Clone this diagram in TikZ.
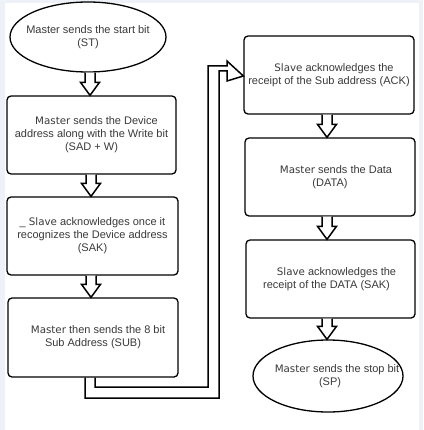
\documentclass[tikz,border=0pt]{standalone}
\usepackage{fontspec}
\setmainfont{Liberation Sans}
\newfontfamily\dvfont{DejaVu Sans}
\usetikzlibrary{shapes.geometric,calc}
\definecolor{txt}{HTML}{3A3A3A}
\definecolor{frame}{HTML}{EEF1F8}
\newcommand{\alt}[1]{{\dvfont\fontsize{10.3}{13}\selectfont #1}}
\newcommand{\ind}[1]{\hspace*{#1}}
\tikzset{
  every node/.style={font=\fontsize{11}{13}\selectfont, text=txt, align=center},
  stepbox/.style={draw=black, line width=1.3pt, rounded corners=4pt, rectangle, inner sep=0pt},
  oval/.style={draw=black, line width=1.3pt, ellipse, inner xsep=-40pt, inner ysep=-10pt},
  blk/.style={draw=black, line width=1.5pt, fill=white, line join=miter},
}
\newcommand{\blockarrow}[3]{%
  \draw[blk] let \p1=(#2.south), \p2=(#3.north) in
    (#1-5,\y1) -- (#1-5,\y2+13) -- (#1-9.5,\y2+13) -- (#1,\y2) --
    (#1+9.5,\y2+13) -- (#1+5,\y2+13) -- (#1+5,\y1);}
\begin{document}
\begin{tikzpicture}[x=1pt,y=1pt]
\fill[frame] (0,0) rectangle (423,-430);
\fill[white] (5,-3) rectangle (419,-430);
\useasboundingbox (0,0) rectangle (423,-430);

\node[oval, minimum width=156pt, minimum height=70pt] (e1) at (88,-37)
  {Master sends the start bit\\(ST)};
\node[stepbox, minimum width=169pt, minimum height=78pt] (b2) at (91.5,-135)
  {\ind{10pt}\alt{Master} sends the Device\\address along with the Write bit\\(SAD + W)};
\node[stepbox, minimum width=171pt, minimum height=78pt] (b3) at (92.5,-236)
  {\_ \alt{Slave} acknowledges once it\\recognizes the Device address\\(SAK)};
\node[stepbox, minimum width=170pt, minimum height=79pt] (b4) at (93,-337.5)
  {\ind{10pt}\alt{Master} then sends the 8 bit\\Sub Address (SUB)};
\node[stepbox, minimum width=170pt, minimum height=78pt] (b5) at (329,-75)
  {\ind{10pt}\alt{Slave} acknowledges the\\receipt of the Sub address (ACK)};
\node[stepbox, minimum width=170pt, minimum height=78pt] (b6) at (330,-177)
  {\ind{12pt}\alt{Master} sends the Data\\(DATA)};
\node[stepbox, minimum width=169pt, minimum height=78pt] (b7) at (330.5,-279)
  {\ind{12pt}\alt{Slave} acknowledges the\\\ind{-8pt}receipt of the DATA (SAK)};
\node[oval, minimum width=150pt, minimum height=72pt] (e2) at (328,-376)
  {\ind{18pt}\alt{Master} sends the stop bit\\\ind{4pt}(SP)};

\blockarrow{90}{e1}{b2}
\blockarrow{91}{b2}{b3}
\blockarrow{91}{b3}{b4}
\blockarrow{327}{b5}{b6}
\blockarrow{327}{b6}{b7}
\blockarrow{327}{b7}{e2}

% long hollow connector from b4 to b5
\draw[blk, fill=none] let \p1=(b4.south), \p2=(b5.west) in
  (85,\y1) -- (85,-398) -- (219,-398) -- (219,\y2+4) -- (227,\y2+4) --
  (227,\y2-6) -- (\x2,\y2+4-5) -- (227,\y2+14) -- (227,\y2+9) --
  (208,\y2+9) -- (208,-387) -- (95,-387) -- (95,\y1);
\end{tikzpicture}
\end{document}
